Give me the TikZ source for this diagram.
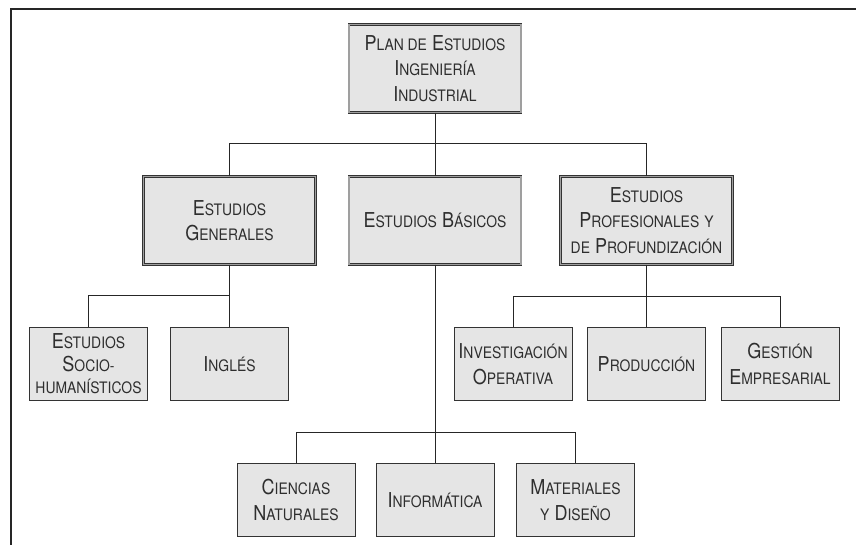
\documentclass[tikz,border=0pt]{standalone}
\usepackage{fontspec}
\setmainfont[FakeStretch=0.88]{TeX Gyre Heros}
\newcommand{\sm}[1]{{\fontsize{15.8pt}{25.5pt}\selectfont #1}}
\definecolor{boxgray}{HTML}{E5E5E5}
\definecolor{inkgray}{HTML}{2E2E2E}
\tikzset{
  bigbox/.style={draw=black!80, line width=0.4pt, double=gray!75, double distance=1.3pt,
    fill=boxgray, minimum width=172pt, minimum height=88pt, align=center,
    text=inkgray, font=\fontsize{20.5pt}{25.5pt}\selectfont},
  leafbox/.style={draw=black!80, line width=0.7pt, fill=boxgray,
    minimum width=118pt, minimum height=73pt, align=center, inner sep=1pt,
    text=inkgray, font=\fontsize{20.5pt}{25.5pt}\selectfont},
  link/.style={draw=black!85, line width=0.8pt}
}
\begin{document}
\begin{tikzpicture}[x=1pt,y=-1pt]
\useasboundingbox (0,0) rectangle (856,545);
\draw[line width=1.6pt, black!85] (11,545) -- (11,9) -- (856,9);

% top level
\node[bigbox] (plan) at (435,68.5) {P\sm{LAN DE} E\sm{STUDIOS}\\I\sm{NGENIERÍA}\\I\sm{NDUSTRIAL}};

% second level
\node[bigbox] (gen) at (229.5,220.5) {E\sm{STUDIOS}\\G\sm{ENERALES}};
\node[bigbox] (bas) at (435,220.5) {E\sm{STUDIOS} B\sm{ÁSICOS}};
\node[bigbox] (prof) at (646.5,220.5) {E\sm{STUDIOS}\\P\sm{ROFESIONALES} \sm{Y}\\\sm{DE} P\sm{ROFUNDIZACIÓN}};

% leaves
\node[leafbox, font=\fontsize{20.5pt}{22.5pt}\selectfont] (socio) at (88.5,364)
  {E\sm{STUDIOS}\\S\sm{OCIO-}\\\sm{HUMANÍSTICOS}};
\node[leafbox] (ingles) at (229.5,364) {I\sm{NGLÉS}};
\node[leafbox] (inv) at (513,364) {I\sm{NVESTIGACIÓN}\\O\sm{PERATIVA}};
\node[leafbox] (prod) at (646.5,364) {P\sm{RODUCCIÓN}};
\node[leafbox] (gest) at (780,364) {G\sm{ESTIÓN}\\E\sm{MPRESARIAL}};
\node[leafbox] (cien) at (296,500) {C\sm{IENCIAS}\\N\sm{ATURALES}};
\node[leafbox] (info) at (435,500) {I\sm{NFORMÁTICA}};
\node[leafbox] (mat) at (575.5,500) {M\sm{ATERIALES}\\\sm{Y} D\sm{ISEÑO}};

% connectors
\draw[link] (plan.south) -- (bas.north);
\draw[link] (gen.north) |- ++(0,-33) -| (prof.north);
\draw[link] (gen.south) -- (ingles.north);
\draw[link] (socio.north) |- ++(0,-32) -| (ingles.north);
\draw[link] (prof.south) -- (prod.north);
\draw[link] (inv.north) |- ++(0,-31) -| (gest.north);
\draw[link] (bas.south) -- (info.north);
\draw[link] (cien.north) |- ++(0,-31) -| (mat.north);
\end{tikzpicture}
\end{document}
